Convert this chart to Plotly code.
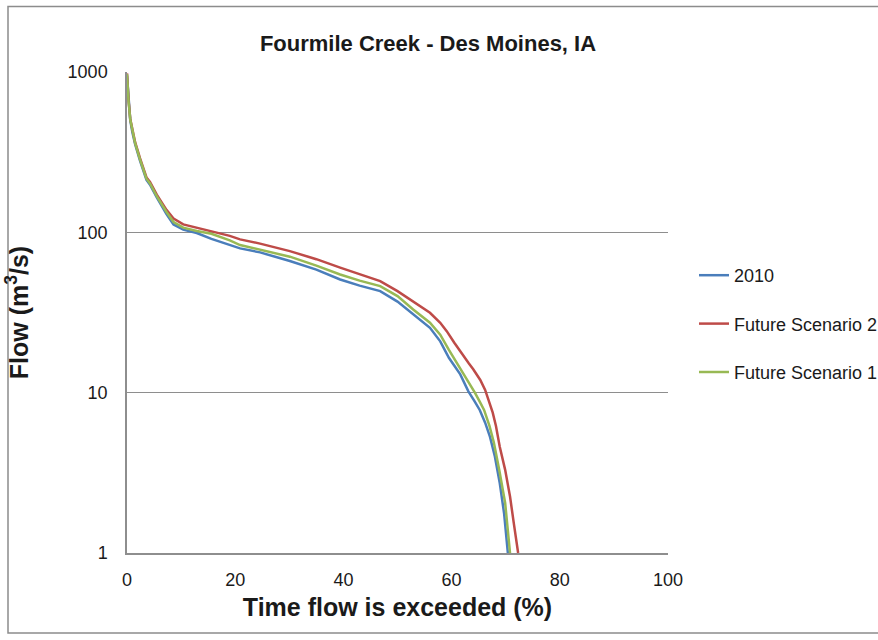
import plotly.graph_objects as go

# ---- data ----
pct_2010 = [0, 0.1, 0.3, 0.6, 1.0, 1.5, 2.4, 3.6, 4.25, 5.5, 7.3, 8.6, 10.4, 12.9, 15.6, 19, 20.9, 24.6,
            30.1, 35, 39.4, 43, 46.8, 50, 52.9, 56.0, 57.9, 59.5, 61.6, 63.1, 64.2, 65.2, 66.2, 67.1, 68.0,
            68.9, 69.7, 70.4]
flow_2010 = [950, 830, 640, 500, 420, 355, 280, 212, 198, 165, 130, 112, 104, 99, 91, 83, 79.4, 75,
             66.3, 58.5, 50.8, 46.5, 43.0, 37, 30.7, 25.4, 20.9, 16.5, 13.0, 10.2, 8.9, 7.8, 6.5, 5.3, 4.0,
             2.73, 1.77, 1.0]

pct_fs2 = [0, 0.1, 0.3, 0.6, 1.0, 1.5, 2.4, 3.6, 4.25, 5.5, 7.3, 8.6, 10.4, 12.9, 15.6, 19, 20.9, 24.6,
           30.1, 35, 39.4, 43, 46.8, 50, 52.9, 56.0, 57.9, 59.1, 60.5, 62.0, 63.2, 64.0, 65.3, 66.2, 67.0,
           67.6, 68.2, 68.9, 69.9, 70.8, 71.5, 72.3]
flow_fs2 = [980, 850, 660, 510, 430, 365, 290, 220, 206, 172, 138, 122, 112, 107, 101, 95, 90.4, 85,
            76.4, 68, 60.2, 55, 49.6, 43, 37.2, 31.5, 27.3, 24.2, 20.5, 17.2, 15.2, 14.0, 12.0, 10.4, 8.7,
            7.5, 6.2, 4.6, 3.3, 2.25, 1.53, 1.0]

pct_fs1 = [0, 0.1, 0.3, 0.6, 1.0, 1.5, 2.4, 3.6, 4.25, 5.5, 7.3, 8.6, 10.4, 12.9, 15.6, 19, 20.9, 24.6,
           30.1, 35, 39.4, 43, 46.8, 50, 52.9, 56.0, 57.9, 59.5, 61.0, 62.6, 64.3, 65.2, 66.0, 67.0, 67.8,
           68.8, 69.9, 70.8]
flow_fs1 = [970, 840, 650, 505, 425, 360, 285, 216, 202, 168, 134, 116, 107, 102, 98, 89, 83.3, 78,
            70.5, 62, 54.6, 50, 46.2, 40, 33, 27.3, 23, 18.5, 15.3, 12.5, 10, 8.8, 7.8, 6.2, 4.9,
            3.3, 2.05, 1.0]

series_names = ["2010", "Future Scenario 2", "Future Scenario 1"]
series_colors = ["#4A7EBB", "#BE4B48", "#98B954"]

y_tickvals = [1, 10, 100, 1000]
y_ticktext = ["1", "10", "100", "1000"]
x_tickvals = [0, 20, 40, 60, 80, 100]

FONT = "Liberation Sans, Arial, sans-serif"
TXT = "#1A1A1A"

fig = go.Figure()
for i, (xs, ys) in enumerate([(pct_2010, flow_2010), (pct_fs2, flow_fs2), (pct_fs1, flow_fs1)]):
    fig.add_trace(go.Scatter(
        x=xs, y=ys, mode="lines", name=series_names[i],
        legendgroup=f"g{i}",
        line=dict(color=series_colors[i], width=2.5),
    ))

L, R, T, B = 127, 210, 72, 87
W, H = 878, 640
pw, ph = W - L - R, H - T - B

def px_to_paper_x(px):
    return (px - L) / pw

def px_to_paper_y(py):
    return (H - B - py) / ph

fig.add_shape(type="rect", xref="paper", yref="paper",
              x0=px_to_paper_x(8), x1=px_to_paper_x(885),
              y0=px_to_paper_y(633), y1=px_to_paper_y(6.5),
              line=dict(color="#8C8C8C", width=1.5), fillcolor="rgba(0,0,0,0)", layer="below")

fig.update_layout(
    width=W, height=H,
    margin=dict(l=L, r=R, t=T, b=B, autoexpand=False),
    paper_bgcolor="white", plot_bgcolor="white",
    font=dict(family=FONT, size=18, color=TXT),
    title=dict(text="<b>Fourmile Creek - Des Moines, IA</b>",
               x=px_to_paper_x(428), xref="paper", xanchor="center",
               y=1 - 43 / H, yanchor="middle", yref="container",
               font=dict(family=FONT, size=22, color=TXT)),
    showlegend=True,
    legend=dict(x=px_to_paper_x(694), xanchor="left", y=px_to_paper_y(257), yanchor="top",
                font=dict(family=FONT, size=18, color=TXT),
                tracegroupgap=22, bgcolor="rgba(0,0,0,0)", itemwidth=30),
    xaxis=dict(range=[0, 100], tickvals=x_tickvals, showgrid=False, zeroline=False,
               showline=True, linecolor="#8E8E8E", linewidth=1.5, ticks="",
               ticklabelstandoff=10,
               tickfont=dict(family=FONT, size=18, color=TXT),
               title=dict(text="<b>Time flow is exceeded (%)</b>", standoff=9,
                          font=dict(family=FONT, size=25, color=TXT))),
    yaxis=dict(type="log", range=[0, 3], tickvals=y_tickvals, ticktext=y_ticktext,
               showgrid=True, gridcolor="#8E8E8E", gridwidth=1, zeroline=False,
               showline=True, linecolor="#8E8E8E", linewidth=1.5, ticks="",
               ticklabelstandoff=14,
               tickfont=dict(family=FONT, size=18, color=TXT),
               title=dict(text="<b>Flow (m<sup>3</sup>/s)</b>", standoff=32,
                          font=dict(family=FONT, size=25, color=TXT))),
)

fig.write_html("out.html")
